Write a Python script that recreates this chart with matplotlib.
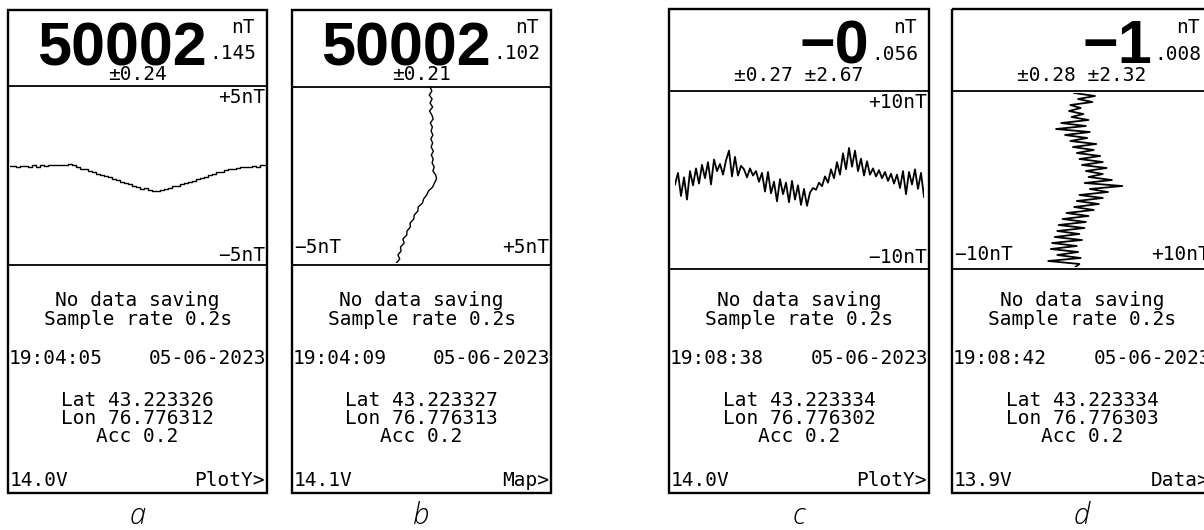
import matplotlib
matplotlib.use("Agg")
import matplotlib.pyplot as plt
from matplotlib import font_manager
from matplotlib.patches import Rectangle

# ---------------- data ----------------
panel_letters = ["a", "b", "c", "d"]
big_values = ["50002", "50002", "\u22120", "\u22121"]
frac_values = [".145", ".102", ".056", ".008"]
sigma_texts = ["\u00b10.24", "\u00b10.21", "\u00b10.27 \u00b12.67", "\u00b10.28 \u00b12.32"]
range_low = ["\u22125nT", "\u22125nT", "\u221210nT", "\u221210nT"]
range_high = ["+5nT", "+5nT", "+10nT", "+10nT"]
range_nT = [5, 5, 10, 10]
status_line1 = ["No data saving"] * 4
status_line2 = ["Sample rate 0.2s"] * 4
times = ["19:04:05", "19:04:09", "19:08:38", "19:08:42"]
dates = ["05-06-2023"] * 4
lats = ["Lat 43.223326", "Lat 43.223327", "Lat 43.223334", "Lat 43.223334"]
lons = ["Lon 76.776312", "Lon 76.776313", "Lon 76.776302", "Lon 76.776303"]
accs = ["Acc 0.2"] * 4
voltages = ["14.0V", "14.1V", "14.0V", "13.9V"]
menus = ["PlotY>", "Map>", "PlotY>", "Data>"]

# traces (nT)
trace_a = [0.53, 0.53, 0.50, 0.53, 0.53, 0.50, 0.56, 0.50, 0.56, 0.53, 0.56, 0.56,
           0.56, 0.56, 0.59, 0.64, 0.56, 0.47, 0.39, 0.34, 0.25, 0.20, 0.11, 0.03,
           0.00, -0.08, -0.17, -0.25, -0.34, -0.42, -0.47, -0.59, -0.67, -0.75, -0.70,
           -0.81, -0.87, -0.87, -0.81, -0.75, -0.70, -0.61, -0.59, -0.50, -0.42, -0.36,
           -0.28, -0.20, -0.14, -0.06, 0.03, 0.08, 0.17, 0.22, 0.28, 0.34, 0.39, 0.42,
           0.47, 0.47, 0.50, 0.53, 0.50, 0.56, 0.56]
trace_b = [0.33, 0.40, 0.30, 0.41, 0.33, 0.43, 0.31, 0.40, 0.45, 0.34, 0.42, 0.37,
           0.44, 0.36, 0.43, 0.37, 0.46, 0.38, 0.45, 0.41, 0.49, 0.44, 0.55, 0.58,
           0.50, 0.43, 0.27, 0.20, 0.08, 0.04, -0.13, -0.14, -0.28, -0.30, -0.44,
           -0.43, -0.56, -0.57, -0.72, -0.67, -0.81, -0.79, -0.91, -0.84, -0.97]
trace_c = [-0.5, 0.8, -1.8, 0.3, -2.2, 1.0, -0.6, 1.3, -0.4, 1.7, 0.2, 2.0, -0.5, 2.3,
           1.0, 1.8, 0.6, 2.2, 3.3, 0.4, 2.6, 0.5, 1.6, 1.2, 0.3, 1.3, 0.5, 1.0, -0.2,
           0.8, -1.3, 0.9, -1.5, -0.2, -2.4, 0.1, -1.6, -0.3, -2.5, -0.1, -2.2, -0.6,
           -2.8, -1.0, -2.9, -1.4, -0.9, -1.1, -0.3, -0.7, 0.4, -0.3, 1.2, 0.2, 2.0,
           0.6, 3.0, 1.2, 3.6, 1.5, 3.3, 1.0, 2.4, 0.5, 2.1, 0.6, 1.3, 0.4, 1.1, 0.2,
           0.9, -0.1, 0.7, -0.4, 0.6, -0.9, 1.0, -1.6, 0.9, -0.5, 1.2, -1.0, 0.8, -1.9]
trace_d = [-0.6, 1.0, -0.3, 0.8, -0.9, -0.1, -1.0, 0.1, -0.8, 0.5, -1.6, 0.3, -2.0,
           0.6, -1.3, 0.4, -0.9, 1.1, -0.7, 0.9, -0.4, 1.4, -0.2, 1.6, 0.0, 1.9, 0.3,
           1.6, 0.5, 2.3, 0.2, 3.1, 0.6, 2.0, -0.2, 1.6, -0.4, 1.3, -0.6, 0.9, -1.2,
           0.5, -1.5, 0.3, -1.8, 0.2, -1.9, -0.2, -2.1, 0.0, -2.3, -0.4, -2.4, -0.3,
           -1.9, -0.1, -2.6, -0.2, -0.5]
traces = [trace_a, trace_b, trace_c, trace_d]
trace_vertical = [False, True, False, True]

# ---------------- layout (pixels) ----------------
W, H = 1204, 530
# left, right, top, header line, plot bottom, bottom
boxes = [(8, 267, 10, 86, 265, 493),
         (292, 551, 10, 87, 265, 493),
         (669, 929, 9, 91, 269, 493),
         (952, 1212, 9, 91, 269, 493)]
# trace extents (x0, x1, y0, y1)
trace_ext = [(10, 266, 86, 265),
             (292, 551, 87, 263),
             (675, 924, 91, 269),
             (952, 1212, 93, 267)]
big_base = [65, 65, 63, 63]
frac_base = [59, 59, 60, 60]
sigma_base = [80, 80, 81, 81]
low_base = [261, 253, 263, 260]
high_base = [103, 253, 108, 260]

names = {f.name for f in font_manager.fontManager.ttflist}
if "Liberation Sans Narrow" in names:
    big_family, big_size = "Liberation Sans Narrow", 47
else:
    big_family, big_size = "Liberation Sans", 44
mono = "DejaVu Sans Mono"
fs = 14

fig = plt.figure(figsize=(W / 100, H / 100), dpi=100)
bg = fig.add_axes([0, 0, 1, 1])
bg.set_xlim(0, W)
bg.set_ylim(H, 0)
bg.axis("off")


def ax_px(x0, x1, y0, y1):
    return fig.add_axes([x0 / W, 1 - y1 / H, (x1 - x0) / W, (y1 - y0) / H])


def t(x, y, s, ha="left", **kw):
    kw.setdefault("family", mono)
    kw.setdefault("fontsize", fs)
    bg.text(x, y, s, ha=ha, va="baseline", color="black", **kw)


for i in range(4):
    L, R, T, HL, PB, B = boxes[i]
    cx = (L + R) / 2
    bg.add_patch(Rectangle((L, T), R - L, B - T, fill=False, lw=1.7, ec="black"))
    bg.plot([L, R], [HL, HL], color="black", lw=1.3)
    bg.plot([L, R], [PB, PB], color="black", lw=1.3)

    # header
    t(R - 60, big_base[i], big_values[i], ha="right", family=big_family,
      fontsize=big_size, fontweight="bold")
    t(R - 58, frac_base[i], frac_values[i])
    t(R - 12, 33, "nT", ha="right")
    t(cx, sigma_base[i], sigma_texts[i], ha="center")

    # plot range labels
    if trace_vertical[i]:
        t(L + 2, low_base[i], range_low[i])
        t(R - 2, high_base[i], range_high[i], ha="right")
    else:
        t(R - 2, high_base[i], range_high[i], ha="right")
        t(R - 2, low_base[i], range_low[i], ha="right")

    # body text
    t(cx, 306, status_line1[i], ha="center")
    t(cx, 325, status_line2[i], ha="center")
    t(L + 1, 364, times[i])
    t(R - 1, 364, dates[i], ha="right")
    t(cx, 406, lats[i], ha="center")
    t(cx, 424, lons[i], ha="center")
    t(cx, 442, accs[i], ha="center")
    t(L + 2, 486, voltages[i])
    t(R - 2, 486, menus[i], ha="right")

    # panel letter
    bg.text(cx, 524, panel_letters[i], ha="center", va="baseline",
            family="Open Sans", style="italic", fontweight="light",
            fontsize=21, color="black")

    # trace
    x0, x1, y0, y1 = trace_ext[i]
    ax = ax_px(x0, x1, y0, y1)
    ax.axis("off")
    vals = traces[i]
    idx = list(range(len(vals)))
    r = range_nT[i]
    if trace_vertical[i]:
        ax.plot(vals, idx, color="black", lw=1.0 if r == 5 else 1.3)
        ax.set_xlim(-r, r)
        ax.set_ylim(len(vals) - 1, 0)
    else:
        ax.plot(idx, vals, color="black", lw=1.0 if r == 5 else 1.3,
                drawstyle="steps-mid" if r == 5 else "default")
        ax.set_xlim(0, len(vals) - 1)
        ax.set_ylim(-r, r)

fig.savefig("out.png", dpi=100)
